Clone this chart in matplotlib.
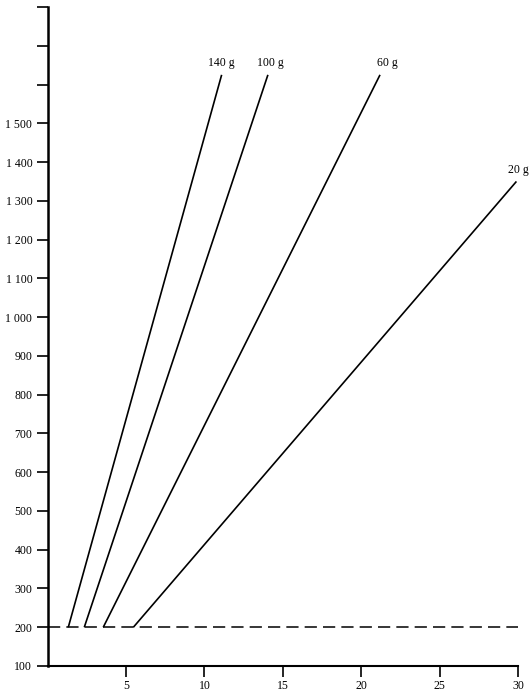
import matplotlib
matplotlib.use("Agg")
import matplotlib.pyplot as plt

# Data
series_labels = ["140 g", "100 g", "60 g", "20 g"]
x_start = [1.32, 2.34, 3.55, 5.47]
y_start = [200, 200, 200, 200]
x_end = [11.1, 14.05, 21.2, 29.9]
y_end = [1625, 1625, 1625, 1350]
baseline = 200
x_ticks = [5, 10, 15, 20, 25, 30]
y_ticks = [100, 200, 300, 400, 500, 600, 700, 800, 900, 1000, 1100, 1200, 1300, 1400, 1500, 1600, 1700, 1800]
y_tick_labels = ["100", "200", "300", "400", "500", "600", "700", "800", "900",
                 "1 000", "1 100", "1 200", "1 300", "1 400", "1 500", "", "", ""]

# Style: label offsets in points
label_dx = [0, 2, 5, 1.5]

plt.rcParams['font.family'] = ['Liberation Serif', 'DejaVu Serif']

fig = plt.figure(figsize=(5.32, 6.95), dpi=100)
ax = fig.add_axes([47.6/532, 1-666/695, (518-47.6)/532, (666-7)/695])
ax.set_xlim(0, 30)
ax.set_ylim(100, 1800)

for xs, ys, xe, ye, lab, dx in zip(x_start, y_start, x_end, y_end, series_labels, label_dx):
    ax.plot([xs, xe], [ys, ye], color='black', lw=1.2, solid_capstyle='butt')
    ax.annotate(lab, (xe, ye), xytext=(dx, 4), textcoords='offset points',
                ha='center', va='bottom', fontsize=8.5)

ax.plot([0, 30], [baseline, baseline], color='black', lw=1.1, dashes=(8, 4))

for s in ['top', 'right']:
    ax.spines[s].set_visible(False)
ax.spines['left'].set_linewidth(1.8)
ax.spines['bottom'].set_linewidth(1.5)

ax.set_xticks(x_ticks)
ax.set_xticklabels([str(v) for v in x_ticks], fontsize=8.5)
ax.set_yticks(y_ticks)
ax.set_yticklabels(y_tick_labels, fontsize=8.5)
ax.tick_params(axis='y', direction='out', length=8, width=1.2, pad=3)
ax.tick_params(axis='x', direction='out', length=8, width=1.2, pad=2)

fig.savefig("out.png", dpi=100)
